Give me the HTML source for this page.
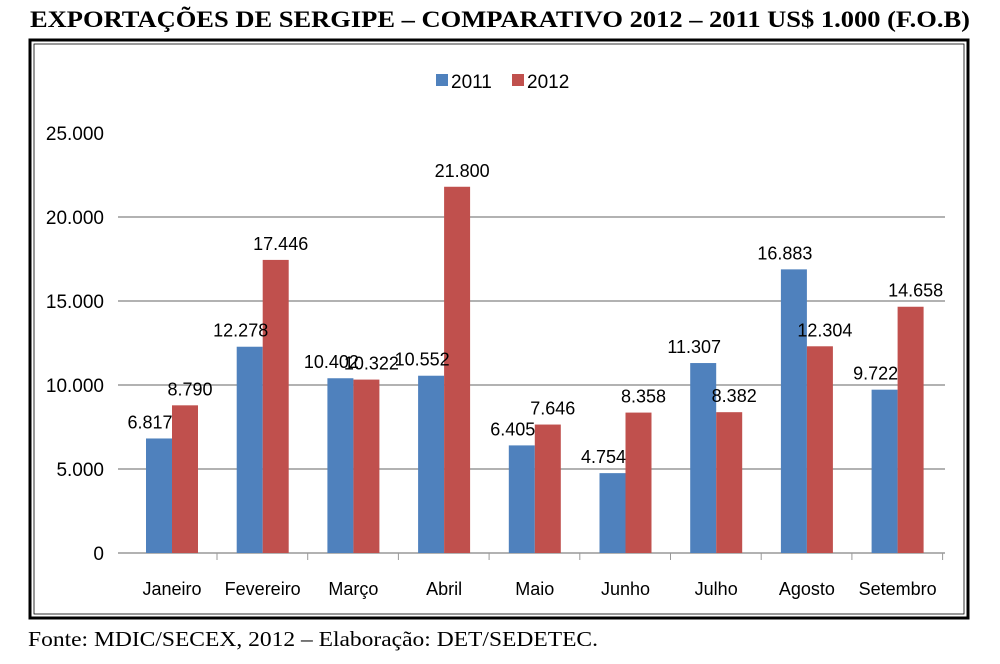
<!DOCTYPE html>
<html><head><meta charset="utf-8"><style>
body{margin:0;background:#fff;width:1000px;height:664px;overflow:hidden}
</style></head><body>
<svg width="1000" height="664" xmlns="http://www.w3.org/2000/svg" style="position:absolute;left:0;top:0">
<text x="30" y="27" textLength="940" lengthAdjust="spacingAndGlyphs" font-family="Liberation Serif" font-weight="bold" font-size="23">EXPORTAÇÕES DE SERGIPE – COMPARATIVO 2012 – 2011 US$ 1.000 (F.O.B)</text>
<rect x="30" y="40" width="938" height="578" fill="none" stroke="#000" stroke-width="3"/>
<rect x="34" y="44" width="930" height="570" fill="none" stroke="#000" stroke-width="0.8"/>
<g stroke="#999" stroke-width="1.5">
<line x1="118" x2="945" y1="217" y2="217"/>
<line x1="118" x2="945" y1="301" y2="301"/><line x1="118" x2="945" y1="385" y2="385"/>
<line x1="118" x2="945" y1="469" y2="469"/><line x1="118" x2="945" y1="553" y2="553"/>
</g>
<g font-family="Liberation Sans" font-size="19" text-anchor="end" fill="#000">
<text x="104" y="140">25.000</text><text x="104" y="224">20.000</text><text x="104" y="308">15.000</text>
<text x="104" y="392">10.000</text><text x="104" y="476">5.000</text><text x="104" y="560">0</text>
</g>
<rect x="436" y="74" width="12" height="12" fill="#4f81bd"/>
<text x="451" y="88" font-family="Liberation Sans" font-size="19">2011</text>
<rect x="512" y="74" width="12" height="12" fill="#c0504d"/>
<text x="527" y="88" font-family="Liberation Sans" font-size="19">2012</text>
<g id="bars" font-family="Liberation Sans" font-size="18" text-anchor="middle"></g>
</svg>
<script>
var d=[["Janeiro",6817,8790],["Fevereiro",12278,17446],["Março",10402,10322],["Abril",10552,21800],["Maio",6405,7646],["Junho",4754,8358],["Julho",11307,8382],["Agosto",16883,12304],["Setembro",9722,14658]];
var g=document.getElementById('bars'),s='';
function f(v){return (v/1000).toFixed(3);}
d.forEach(function(r,i){var c=172+i*90.7,h1=r[1]*84/5000,h2=r[2]*84/5000;
s+='<rect x="'+(c-26)+'" y="'+(553-h1)+'" width="26" height="'+h1+'" fill="#4f81bd"/>';
s+='<rect x="'+c+'" y="'+(553-h2)+'" width="26" height="'+h2+'" fill="#c0504d"/>';
s+='<text x="'+(c-22)+'" y="'+(553-h1-10)+'">'+f(r[1])+'</text>';
s+='<text x="'+(c+18)+'" y="'+(553-h2-10)+'">'+f(r[2])+'</text>';
s+='<text x="'+c+'" y="595">'+r[0]+'</text>';
s+='<line x1="'+(c+45)+'" x2="'+(c+45)+'" y1="553" y2="560" stroke="#999"/>';});
g.innerHTML=s;
</script>
<svg width="1000" height="40" style="position:absolute;left:0;top:624px"><text x="28" y="22" textLength="570" lengthAdjust="spacingAndGlyphs" font-family="Liberation Serif" font-size="21">Fonte: MDIC/SECEX, 2012 – Elaboração: DET/SEDETEC.</text></svg>
</body></html>
